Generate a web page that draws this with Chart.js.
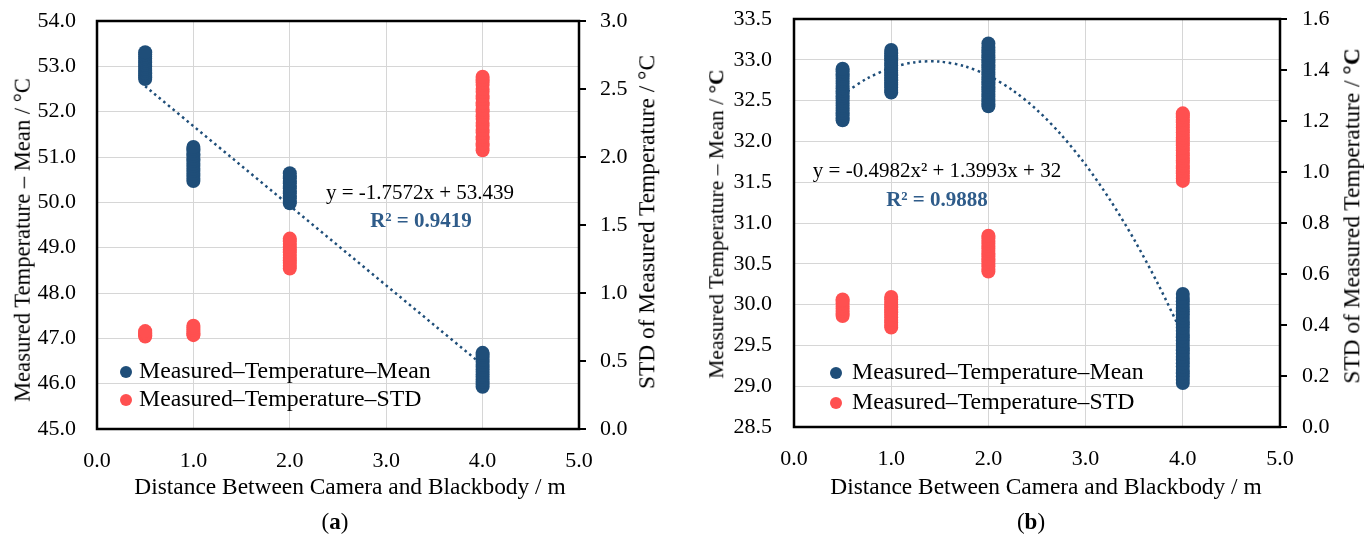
<!DOCTYPE html>
<html><head><meta charset="utf-8">
<script src="https://cdn.jsdelivr.net/npm/chart.js@4.4.1/dist/chart.umd.min.js"></script>
<style>
body{margin:0;background:#fff;}
#wrap{position:relative;width:1364px;height:537px;overflow:hidden;font-family:"Liberation Serif",serif;color:#000;}
canvas{position:absolute;top:0;}
.t{position:absolute;white-space:nowrap;font-size:22px;line-height:1;transform:translate(-50%,-50%);}
.r{transform:translate(-50%,-50%) rotate(-90deg);}
.leg{position:absolute;white-space:nowrap;font-size:23.8px;line-height:1;transform:translateY(-50%);}
.dot{position:absolute;width:12px;height:12px;border-radius:50%;transform:translate(-50%,-50%);}
.eq{font-size:21px;}
.r2{font-weight:bold;color:#2F5C8A;font-size:21px;}
</style></head>
<body>
<div id="wrap">
<canvas id="ca" width="682" height="537" style="left:0"></canvas>
<canvas id="cb" width="682" height="537" style="left:682px"></canvas>

<div class="t r" style="left:23px;top:240px;font-size:22.6px">Measured Temperature – Mean / °C</div>
<div class="t r" style="left:717px;top:224px;font-size:21.5px">Measured Temperature – Mean / <b>°C</b></div>
<div class="t r" style="left:647px;top:222px;font-size:23.4px">STD of Measured Temperature / °C</div>
<div class="t r" style="left:1352px;top:216px;font-size:23.4px">STD of Measured Temperature / <b>°C</b></div>
<div class="t" style="left:350px;top:487px;font-size:23.4px">Distance Between Camera and Blackbody / m</div>
<div class="t" style="left:1046px;top:487px;font-size:23.4px">Distance Between Camera and Blackbody / m</div>

<div class="t eq" style="left:420px;top:192px">y = -1.7572x + 53.439</div>
<div class="t r2" style="left:421px;top:220px">R² = 0.9419</div>
<div class="t eq" style="left:937px;top:170px">y = -0.4982x² + 1.3993x + 32</div>
<div class="t r2" style="left:937px;top:199px">R² = 0.9888</div>

<div class="dot" style="left:126px;top:372px;background:#1F4E79"></div>
<div class="leg" style="left:139px;top:371px">Measured–Temperature–Mean</div>
<div class="dot" style="left:126px;top:400px;background:#FF5050"></div>
<div class="leg" style="left:139px;top:399px">Measured–Temperature–STD</div>

<div class="dot" style="left:836px;top:373px;background:#1F4E79"></div>
<div class="leg" style="left:852px;top:372px">Measured–Temperature–Mean</div>
<div class="dot" style="left:836px;top:403px;background:#FF5050"></div>
<div class="leg" style="left:852px;top:402px">Measured–Temperature–STD</div>

<div class="t" style="left:335px;top:521px;font-size:23px">(<b>a</b>)</div>
<div class="t" style="left:1031px;top:521px;font-size:23px">(<b>b</b>)</div>
</div>
<script>
// ---------- Data: chart (a) ----------
const meanA05 = [52.72,52.76,52.81,52.85,52.90,52.94,52.99,53.03,53.08,53.12,53.17,53.21,53.26,53.31];
const meanA10 = [50.47,50.52,50.58,50.63,50.69,50.74,50.80,50.85,50.91,50.96,51.02,51.07,51.13,51.18,51.22];
const meanA20 = [49.98,50.03,50.09,50.14,50.20,50.25,50.31,50.36,50.42,50.47,50.53,50.58,50.64];
const meanA40 = [45.93,45.98,46.04,46.09,46.15,46.20,46.26,46.31,46.37,46.42,46.48,46.53,46.59,46.64,46.68];
const stdA05 = [0.68,0.69,0.70,0.71,0.72];
const stdA10 = [0.69,0.70,0.715,0.73,0.745,0.76];
const stdA20 = [1.18,1.20,1.22,1.24,1.26,1.28,1.30,1.32,1.34,1.36,1.38,1.40];
const stdA40 = [2.05,2.08,2.10,2.13,2.15,2.18,2.20,2.23,2.25,2.28,2.30,2.33,2.35,2.38,2.40,2.43,2.45,2.48,2.50,2.53,2.55,2.57,2.59];
const trendAx = [0.5, 4.0];
const trendAy = [52.56, 46.41];

// ---------- Data: chart (b) ----------
const meanB05 = [32.26,32.29,32.32,32.35,32.38,32.41,32.44,32.47,32.50,32.53,32.56,32.59,32.62,32.65,32.68,32.71,32.74,32.77,32.80,32.83,32.86,32.89];
const meanB10 = [32.60,32.63,32.66,32.69,32.72,32.75,32.78,32.81,32.84,32.87,32.90,32.93,32.96,32.99,33.02,33.05,33.08,33.12];
const meanB20 = [32.43,32.46,32.49,32.52,32.55,32.58,32.61,32.64,32.67,32.70,32.73,32.76,32.79,32.82,32.85,32.88,32.91,32.94,32.97,33.00,33.03,33.06,33.09,33.12,33.15,33.20];
const meanB40 = [29.04,29.08,29.12,29.16,29.20,29.24,29.28,29.32,29.36,29.40,29.44,29.48,29.52,29.56,29.60,29.64,29.68,29.72,29.76,29.80,29.84,29.88,29.92,29.96,30.00,30.04,30.08,30.13];
const stdB05 = [0.435,0.445,0.455,0.465,0.475,0.485,0.495,0.50];
const stdB10 = [0.39,0.40,0.41,0.42,0.43,0.44,0.45,0.46,0.47,0.48,0.49,0.50,0.51];
const stdB20 = [0.61,0.62,0.63,0.64,0.65,0.66,0.67,0.68,0.69,0.70,0.71,0.72,0.73,0.74,0.75];
const stdB40 = [0.965,0.975,0.985,0.995,1.005,1.015,1.025,1.035,1.045,1.055,1.065,1.075,1.085,1.095,1.105,1.115,1.125,1.135,1.145,1.155,1.165,1.175,1.185,1.195,1.205,1.215,1.225,1.23];
const trendBx = [0.5,0.75,1.0,1.25,1.5,1.75,2.0,2.25,2.5,2.75,3.0,3.25,3.5,3.75,4.0];
const trendBy = [32.575,32.769,32.901,32.971,32.978,32.923,32.806,32.626,32.385,32.080,31.714,31.286,30.795,30.241,29.626];

const distances = [0.5, 1.0, 2.0, 4.0];
const xTicks = {min:0, max:5, step:1};

const BLUE = '#1F4E79', RED = '#FF5050', GRID = '#d6d6d6';
const FONT = {family:'"Liberation Serif", serif', size:22};

function cols(groups){
  const out = [];
  groups.forEach((g,i)=>g.forEach(v=>out.push({x:distances[i], y:v})));
  return out;
}
function pairs(xs, ys){ return xs.map((x,i)=>({x:x, y:ys[i]})); }

const frame = {
  id:'frame',
  beforeDatasetsDraw(chart){
    const a = chart.chartArea, c = chart.ctx;
    c.save(); c.strokeStyle='#000'; c.lineWidth=2.5;
    c.strokeRect(a.left, a.top, a.right-a.left, a.bottom-a.top);
    c.restore();
  }
};

function make(id, o){
  return new Chart(document.getElementById(id), {
    type:'scatter',
    data:{datasets:[
      {data:cols(o.mean), yAxisID:'y', backgroundColor:BLUE, pointRadius:7, borderWidth:0, order:1},
      {data:cols(o.std), yAxisID:'y2', backgroundColor:RED, pointRadius:7, borderWidth:0, order:2},
      {data:o.trend, yAxisID:'y', showLine:true, pointRadius:0, borderColor:BLUE, borderWidth:2.5,
       borderDash:[2.5,3.5], tension:0.3, fill:false, order:5}
    ]},
    options:{
      responsive:false, animation:false, devicePixelRatio:1,
      layout:{padding:{top:o.top, left:0, right:0, bottom:0}},
      plugins:{legend:{display:false}, tooltip:{enabled:false}},
      events:[],
      scales:{
        x:{type:'linear', position:'bottom', min:xTicks.min, max:xTicks.max,
           ticks:{stepSize:xTicks.step, callback:v=>v.toFixed(1), font:FONT, color:'#000', padding:o.xpad},
           grid:{color:GRID, drawTicks:false, lineWidth:1},
           border:{display:false},
           afterFit:s=>{s.height = 537 - o.bottom;}},
        y:{type:'linear', position:'left', min:o.ymin, max:o.ymax,
           ticks:{stepSize:o.ystep, callback:v=>v.toFixed(1), font:FONT, color:'#000', padding:o.ypad},
           grid:{color:GRID, drawTicks:false, lineWidth:1},
           border:{display:false},
           afterFit:s=>{s.width = o.left; s.paddingTop = 0; s.paddingBottom = 0;}},
        y2:{type:'linear', position:'right', min:0, max:o.y2max,
           ticks:{stepSize:o.y2step, callback:v=>v.toFixed(1), font:FONT, color:'#000', padding:o.y2pad},
           grid:{drawOnChartArea:false, drawTicks:true, tickLength:7, color:'#000', lineWidth:2},
           border:{display:false},
           afterFit:s=>{s.width = 682 - o.right; s.paddingTop = 0; s.paddingBottom = 0;}}
      }
    },
    plugins:[frame]
  });
}

make('ca', {mean:[meanA05,meanA10,meanA20,meanA40], std:[stdA05,stdA10,stdA20,stdA40],
  trend:pairs(trendAx,trendAy), top:21, bottom:429, left:97, right:579,
  ymin:45, ymax:54, ystep:1, y2max:3, y2step:0.5, xpad:19, ypad:21, y2pad:14});
make('cb', {mean:[meanB05,meanB10,meanB20,meanB40], std:[stdB05,stdB10,stdB20,stdB40],
  trend:pairs(trendBx,trendBy), top:19, bottom:427, left:112, right:598,
  ymin:28.5, ymax:33.5, ystep:0.5, y2max:1.6, y2step:0.2, xpad:19, ypad:22, y2pad:15});
</script>
</body></html>
